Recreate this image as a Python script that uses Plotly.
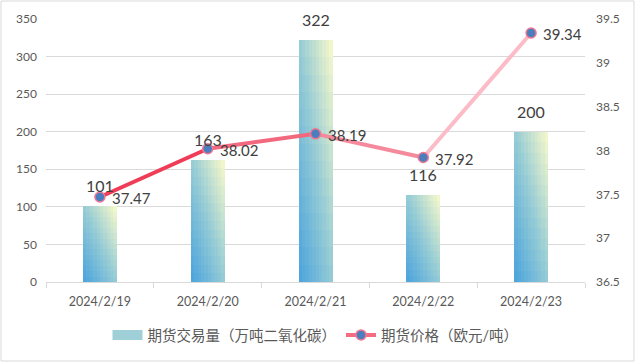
import plotly.graph_objects as go

dates = ["2024/2/19", "2024/2/20", "2024/2/21", "2024/2/22", "2024/2/23"]
volume = [101, 163, 322, 116, 200]
price = [37.47, 38.02, 38.19, 37.92, 39.34]
price_labels = ["37.47", "38.02", "38.19", "37.92", "39.34"]
vol_name = "期货交易量（万吨二氧化碳）"
price_name = "期货价格（欧元/吨）"

W, H = 635, 362
L, R, T, B = 46, 50, 19, 80
pw, ph = W - L - R, H - T - B

FONT = "Lato, 'Noto Sans CJK SC', sans-serif"
TXT = "#404040"
AX = "#595959"

# diagonal gradient: bottom-left blue -> top-right pale yellow
stops = [(0.0, (72, 162, 221)), (0.5, (148, 203, 213)), (1.0, (250, 250, 202))]


def grad(t):
    for (t0, c0), (t1, c1) in zip(stops[:-1], stops[1:]):
        if t <= t1:
            f = (t - t0) / (t1 - t0)
            return "rgb(%d,%d,%d)" % tuple(round(a + (b - a) * f) for a, b in zip(c0, c1))
    return "rgb(%d,%d,%d)" % stops[-1][1]


fig = go.Figure()
BW = 0.315
NC, NR = 10, 14
for i in range(NC):
    for j in range(NR):
        u = (i + 0.5) / NC
        v = (j + 0.5) / NR
        fig.add_trace(go.Bar(
            x=dates, y=[val / NR for val in volume], base=[val * j / NR for val in volume],
            width=BW / NC + 0.002, offset=-BW / 2 + i * BW / NC,
            marker=dict(color=grad((u + v) / 2), line=dict(width=0)),
            showlegend=False, hoverinfo="skip", yaxis="y"))

# legend entry for bars (wide swatch)
fig.add_trace(go.Scatter(x=[dates[0]], y=[None], name=vol_name, mode="lines",
                         line=dict(color="#9fd0d8", width=10), showlegend=True))

# price line segments with fading colour
seg_colors = ["#ef3c57", "#f2687e", "#f48a9b", "#fbbcc8"]
for k in range(len(dates) - 1):
    fig.add_trace(go.Scatter(x=dates[k:k + 2], y=price[k:k + 2], mode="lines",
                             line=dict(color=seg_colors[k], width=4),
                             yaxis="y2", showlegend=False, hoverinfo="skip"))
fig.add_trace(go.Scatter(x=dates, y=price, mode="markers", yaxis="y2", showlegend=False,
                         marker=dict(color="#4a7ebf", size=10, line=dict(color="#f07890", width=1.5))))
# legend entry for line
fig.add_trace(go.Scatter(x=[dates[0]], y=[None], mode="lines+markers", name=price_name, yaxis="y2",
                         line=dict(color="#f56b82", width=4),
                         marker=dict(color="#4a7ebf", size=10, line=dict(color="#f07890", width=1.5))))

ann = []
for d, val in zip(dates, volume):
    ann.append(dict(x=d, y=val, xref="x", yref="y", text=str(val), showarrow=False,
                    yanchor="bottom", yshift=9, font=dict(size=16, color=TXT, family=FONT)))
for d, p, lab in zip(dates, price, price_labels):
    ann.append(dict(x=d, y=p, xref="x", yref="y2", text=lab, showarrow=False,
                    xanchor="left", xshift=10, yshift=-1, font=dict(size=15, color=TXT, family=FONT)))

fig.update_layout(
    width=W, height=H, margin=dict(l=L, r=R, t=T, b=B, autoexpand=False),
    paper_bgcolor="white", plot_bgcolor="white",
    barmode="overlay", bargap=0,
    font=dict(family=FONT, color=AX),
    xaxis=dict(type="category", showline=True, linecolor="#d9d9d9", linewidth=1,
               ticks="outside", tickson="boundaries", ticklen=5, tickcolor="#d9d9d9",
               showgrid=False, tickfont=dict(size=12.5, color=AX, family=FONT),
               ticklabelstandoff=8),
    yaxis=dict(range=[0, 350], dtick=50, showgrid=True, gridcolor="#d9d9d9", zeroline=False,
               showline=False, tickfont=dict(size=12, color=AX, family=FONT), ticks="", ticklabelstandoff=8),
    yaxis2=dict(range=[36.5, 39.5], dtick=0.5, overlaying="y", side="right", showgrid=False,
                zeroline=False, showline=False, tickfont=dict(size=12, color=AX, family=FONT),
                ticklabelstandoff=10),
    legend=dict(orientation="h", x=0.5, xanchor="center", y=-(335 - 282) / ph, yanchor="middle",
                font=dict(size=14.5, color=AX, family=FONT), traceorder="normal"),
    annotations=ann,
    shapes=[dict(type="rect", xref="paper", yref="paper",
                 x0=(1 - L) / pw, x1=(W - 1 - L) / pw,
                 y0=-(B - 1) / ph, y1=(ph + T - 1) / ph,
                 line=dict(color="#d9d9d9", width=1), layer="below")],
)

fig.write_html("out.html", config={"displayModeBar": False},
               post_script="document.body.style.margin='0';document.body.style.overflow='hidden';")
